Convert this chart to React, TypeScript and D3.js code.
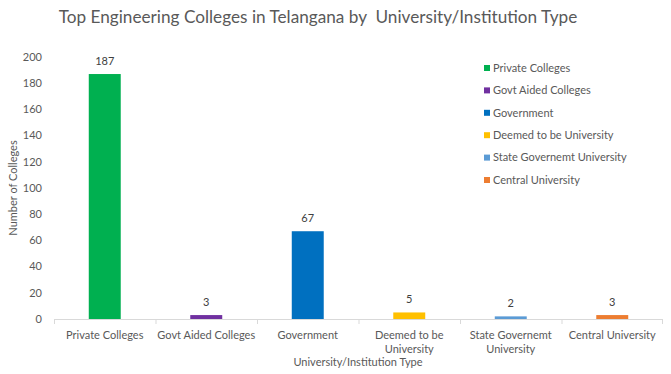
import { scaleBand, scaleLinear } from "d3";

const categories = [
  "Private Colleges",
  "Govt Aided Colleges",
  "Government",
  "Deemed to be University",
  "State Governemt University",
  "Central University",
];
const values = [187, 3, 67, 5, 2, 3];
const colors = ["#00B050", "#7030A0", "#0070C0", "#FFC000", "#5B9BD5", "#ED7D31"];
// wrapped x tick labels, like the excel chart
const tickLines = [
  ["Private Colleges"],
  ["Govt Aided Colleges"],
  ["Government"],
  ["Deemed to be", "University"],
  ["State Governemt", "University"],
  ["Central University"],
];
const yTicks = [0, 20, 40, 60, 80, 100, 120, 140, 160, 180, 200];

const font = "Lato, 'Open Sans', sans-serif";
const textColor = "#595959";

export default function App() {
  const width = 671;
  const height = 374;
  const left = 54;
  const right = 663;
  const top = 57;
  const bottom = 319;

  const x = scaleBand<string>()
    .domain(categories)
    .range([left, right])
    .paddingInner(0.685)
    .paddingOuter(0.3425);
  const y = scaleLinear().domain([0, 200]).range([bottom, top]);
  const step = x.step();
  const start = left;

  return (
    <svg
      width={width}
      height={height}
      style={{ position: "absolute", left: 0, top: 0, background: "#fff" }}
      fontFamily={font}
    >
      <text x={318} y={23} textAnchor="middle" fontSize={17.2} fill={textColor}>
        Top Engineering Colleges in Telangana by{"\u00a0\u00a0"}University/Institution Type
      </text>

      {/* y axis labels */}
      {yTicks.map((t) => (
        <text key={t} x={42} y={y(t)} dy="0.35em" textAnchor="end" fontSize={11} fill={textColor}>
          {t}
        </text>
      ))}
      <text
        transform={`translate(17, ${(top + bottom) / 2}) rotate(-90)`}
        textAnchor="middle"
        fontSize={11}
        fill={textColor}
      >
        Number of Colleges
      </text>

      {/* x axis */}
      <line x1={left} x2={right} y1={bottom + 0.5} y2={bottom + 0.5} stroke="#d9d9d9" />
      {categories.map((c, i) => (
        <line
          key={c}
          x1={start + i * step + 0.5}
          x2={start + i * step + 0.5}
          y1={bottom}
          y2={bottom + 5}
          stroke="#d9d9d9"
        />
      ))}
      <line x1={right - 0.5} x2={right - 0.5} y1={bottom} y2={bottom + 5} stroke="#d9d9d9" />

      {categories.map((c, i) => (
        <g key={c}>
          <rect
            x={x(c)}
            y={y(values[i])}
            width={x.bandwidth()}
            height={bottom - y(values[i])}
            fill={colors[i]}
          />
          <text
            x={(x(c) as number) + x.bandwidth() / 2}
            y={y(values[i]) - 9}
            textAnchor="middle"
            fontSize={11}
            fill="#404040"
          >
            {values[i]}
          </text>
          {tickLines[i].map((ln, j) => (
            <text
              key={j}
              x={(x(c) as number) + x.bandwidth() / 2}
              y={339 + j * 14}
              textAnchor="middle"
              fontSize={11}
              fill={textColor}
            >
              {ln}
            </text>
          ))}
        </g>
      ))}

      <text x={358} y={366} textAnchor="middle" fontSize={11} fill={textColor}>
        University/Institution Type
      </text>

      {/* legend */}
      {categories.map((c, i) => (
        <g key={c} transform={`translate(484, ${68 + i * 22.4})`}>
          <rect x={0} y={-3} width={6} height={6} fill={colors[i]} />
          <text x={9} y={0} dy="0.35em" fontSize={11} fill={textColor}>
            {c}
          </text>
        </g>
      ))}
    </svg>
  );
}
